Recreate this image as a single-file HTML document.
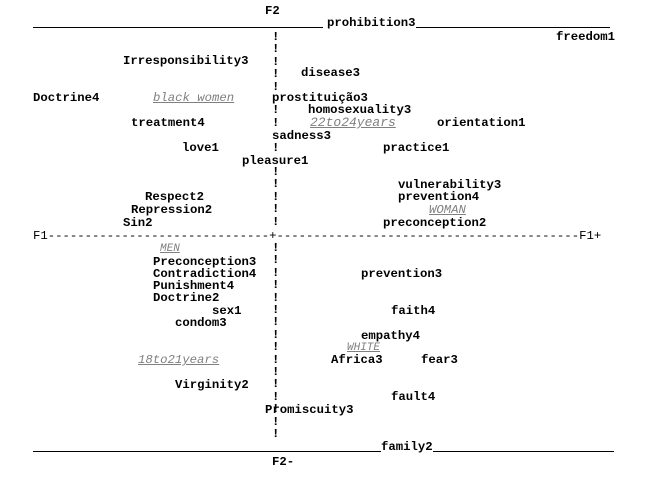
<!DOCTYPE html>
<html><head><meta charset="utf-8"><style>
body{margin:0;width:661px;height:490px;background:#fff;position:relative;overflow:hidden;font-family:"Liberation Mono",monospace;font-size:12.3px;color:#000;font-weight:bold;}
.t{position:absolute;white-space:pre;line-height:14px;}
.s{line-height:12.4px;}
.g{color:#808080;font-style:italic;text-decoration:underline;font-weight:normal;}
.l{position:absolute;height:1.2px;background:#000;}
</style></head><body>
<div class="t" style="left:265px;top:4px">F2</div>
<div class="l" style="left:33px;top:27px;width:290px"></div>
<div class="t" style="left:327px;top:16px">prohibition3</div>
<div class="l" style="left:416px;top:27px;width:194px"></div>
<div class="t" style="left:556px;top:30px">freedom1</div>

<div class="t s" style="left:272px;top:31px">!<br>!<br>!<br>!<br>!</div>
<div class="t" style="left:272px;top:103px">!</div>
<div class="t" style="left:272px;top:116px">!</div>
<div class="t" style="left:272px;top:141px">!</div>
<div class="t s" style="left:272px;top:166px">!<br>!<br>!<br>!<br>!</div>
<div class="t s" style="left:272px;top:242px">!<br>!<br>!<br>!<br>!<br>!<br>!<br>!<br>!<br>!<br>!<br>!<br>!<br>!</div>
<div class="t s" style="left:272px;top:416px">!<br>!</div>

<div class="t" style="left:123px;top:54px">Irresponsibility3</div>
<div class="t" style="left:301px;top:66px">disease3</div>
<div class="t" style="left:33px;top:91px">Doctrine4</div>
<div class="t g" style="left:153px;top:91px">black women</div>
<div class="t" style="left:272px;top:91px">prostituição3</div>
<div class="t" style="left:308px;top:103px">homosexuality3</div>
<div class="t" style="left:131px;top:116px">treatment4</div>
<div class="t g" style="left:310px;top:116px;font-size:13px">22to24years</div>
<div class="t" style="left:437px;top:116px">orientation1</div>
<div class="t" style="left:272px;top:129px">sadness3</div>
<div class="t" style="left:182px;top:141px">love1</div>
<div class="t" style="left:383px;top:141px">practice1</div>
<div class="t" style="left:242px;top:154px">pleasure1</div>
<div class="t" style="left:398px;top:178px">vulnerability3</div>
<div class="t" style="left:145px;top:190px">Respect2</div>
<div class="t" style="left:398px;top:190px">prevention4</div>
<div class="t" style="left:131px;top:203px">Repression2</div>
<div class="t g" style="left:429px;top:203px">WOMAN</div>
<div class="t" style="left:123px;top:216px">Sin2</div>
<div class="t" style="left:383px;top:216px">preconception2</div>
<div class="t" style="left:33px;top:229px;font-weight:normal">F1------------------------------+-----------------------------------------F1+</div>

<div class="t g" style="left:160px;top:242px;font-size:11px">MEN</div>
<div class="t" style="left:153px;top:255px">Preconception3</div>
<div class="t" style="left:153px;top:267px">Contradiction4</div>
<div class="t" style="left:361px;top:267px">prevention3</div>
<div class="t" style="left:153px;top:279px">Punishment4</div>
<div class="t" style="left:153px;top:291px">Doctrine2</div>
<div class="t" style="left:212px;top:304px">sex1</div>
<div class="t" style="left:391px;top:304px">faith4</div>
<div class="t" style="left:175px;top:316px">condom3</div>
<div class="t" style="left:361px;top:329px">empathy4</div>
<div class="t g" style="left:347px;top:341px;font-size:11px">WHITE</div>
<div class="t g" style="left:138px;top:353px">18to21years</div>
<div class="t" style="left:331px;top:353px">Africa3</div>
<div class="t" style="left:421px;top:353px">fear3</div>
<div class="t" style="left:175px;top:378px">Virginity2</div>
<div class="t" style="left:391px;top:390px">fault4</div>
<div class="t" style="left:265px;top:403px">Promiscuity3</div>

<div class="l" style="left:33px;top:451px;width:348px"></div>
<div class="t" style="left:381px;top:440px">family2</div>
<div class="l" style="left:433px;top:451px;width:181px"></div>
<div class="t" style="left:272px;top:455px">F2-</div>
</body></html>
